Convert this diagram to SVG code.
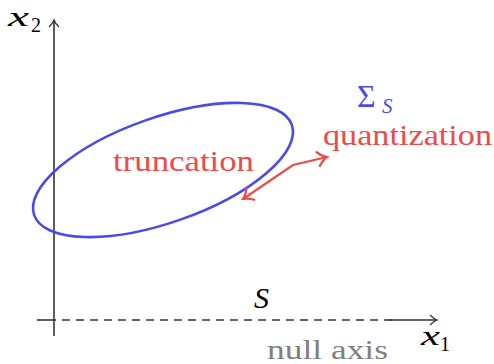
<svg xmlns="http://www.w3.org/2000/svg" width="494" height="364" viewBox="0 0 494 364">
<defs>
<marker id="ax" viewBox="-10 -6 12 12" refX="0" refY="0" markerWidth="12" markerHeight="12" markerUnits="userSpaceOnUse" orient="auto">
<path d="M-7,-5 Q-3,-1 0,0 Q-3,1 -7,5" fill="none" stroke="#333" stroke-width="1.2"/>
</marker>
<marker id="ra" viewBox="-12 -8 14 16" refX="0" refY="0" markerWidth="14" markerHeight="16" markerUnits="userSpaceOnUse" orient="auto-start-reverse">
<path d="M-9,-7 Q-4,-1.5 0,0 Q-4,1.5 -9,7" fill="none" stroke="#EE4A4A" stroke-width="2.2" stroke-linecap="round"/>
</marker>
</defs>
<style>
text{font-family:"Liberation Serif","DejaVu Serif",serif}
.it{font-style:italic}
.red{fill:#EE4A4A}
.axis{stroke:#333;stroke-width:1.6;fill:none}
</style>
<rect width="494" height="364" fill="#fff"/>
<g id="axes">
<line class="axis" x1="54" y1="336" x2="54" y2="20" marker-end="url(#ax)"/>
<line class="axis" x1="37" y1="320" x2="56" y2="320"/>
<line class="axis" x1="56" y1="320" x2="392" y2="320" stroke-dasharray="8,6" stroke-dashoffset="-6"/>
<line class="axis" x1="390" y1="320" x2="437" y2="320" marker-end="url(#ax)"/>
</g>
<g id="ellipse">
<ellipse cx="163" cy="170" rx="136.5" ry="52.6" transform="rotate(-19.3 163 170)" fill="none" stroke="#4A4AE8" stroke-width="2.6"/>
</g>
<g id="connectors">
<polyline points="243,199 293,165 327,157" fill="none" stroke="#EE4A4A" stroke-width="2.2" marker-start="url(#ra)" marker-end="url(#ra)"/>
</g>
<g id="labels">
<text class="it" x="8" y="26" font-size="28" textLength="21" lengthAdjust="spacingAndGlyphs">x</text>
<text x="31" y="32" font-size="20">2</text>
<text class="it" x="421" y="345" font-size="28" textLength="19" lengthAdjust="spacingAndGlyphs">x</text>
<text x="440" y="351" font-size="20">1</text>
<text class="it" x="254" y="308" font-size="30">S</text>
<text x="267" y="359" font-size="27" fill="#808080" textLength="121" lengthAdjust="spacingAndGlyphs">null axis</text>
<text class="red" x="113" y="171" font-size="29" textLength="141" lengthAdjust="spacingAndGlyphs">truncation</text>
<text class="red" x="323" y="145" font-size="29" textLength="169" lengthAdjust="spacingAndGlyphs">quantization</text>
<text x="357" y="107" font-size="32" fill="#4A4AE8">Σ</text>
<text class="it" x="382" y="113" font-size="21" fill="#4A4AE8">S</text>
</g>
</svg>
